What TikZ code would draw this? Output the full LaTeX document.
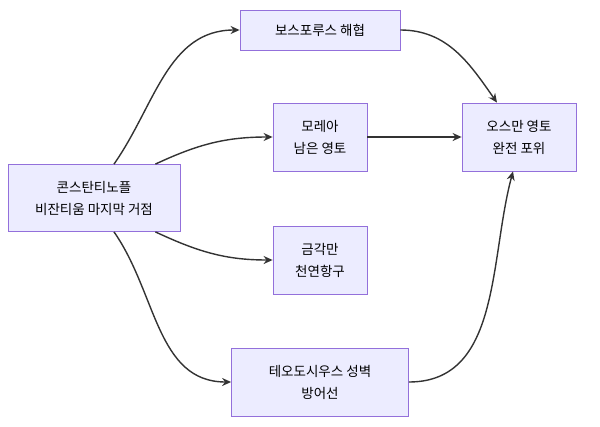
\documentclass[tikz,border=0pt]{standalone}
\usepackage{fontspec}
\setmainfont{Noto Sans CJK KR}
\usetikzlibrary{arrows.meta}
\definecolor{boxfill}{HTML}{ECECFF}
\definecolor{boxline}{HTML}{9370DB}
\definecolor{edge}{HTML}{333333}
\begin{document}
\begin{tikzpicture}[x=1pt,y=-1pt]
    \tikzset{box/.style={draw=boxline, fill=boxfill, line width=0.8pt, align=center,
        font=\fontsize{13.5}{22}\selectfont, inner sep=0pt},
      link/.style={draw=edge, line width=1.4pt, -{Stealth[length=9pt,width=8pt]}}}
    \useasboundingbox (0,0) rectangle (600,426);
    % nodes
    \node [box, minimum width=172pt, minimum height=67pt] (castle) at (94,198) {콘스탄티노플\\비잔티움 마지막 거점};
    \node [box, minimum width=160pt, minimum height=40pt] (strait) at (320,30) {보스포루스 해협};
    \node [box, minimum width=94pt, minimum height=68pt] (morea) at (320,137) {모레아\\남은 영토};
    \node [box, minimum width=94pt, minimum height=68pt] (horn) at (320,260) {금각만\\천연항구};
    \node [box, minimum width=177pt, minimum height=68pt] (walls) at (320,382) {테오도시우스 성벽\\방어선};
    \node [box, minimum width=114pt, minimum height=68pt] (ottoman) at (519,137) {오스만 영토\\완전 포위};
    % connectors
    \draw [link] (castle.north) ++(20,0) to[out=55, in=180] (strait.west);
    \draw [link] (castle.north east) ++(-25,0) to[out=25, in=180] (morea.west);
    \draw [link] (castle.south east) ++(-25,0) to[out=-25, in=180] (horn.west);
    \draw [link] (castle.south) ++(20,0) to[out=-55, in=180] (walls.west);
    \draw [link] (strait.east) to[out=0, in=125] ([xshift=-22pt]ottoman.north);
    \draw [link] (morea) -- (ottoman);
    \draw [link] (walls.east) to[out=0, in=-105] ([xshift=-6pt]ottoman.south);
\end{tikzpicture}
\end{document}
